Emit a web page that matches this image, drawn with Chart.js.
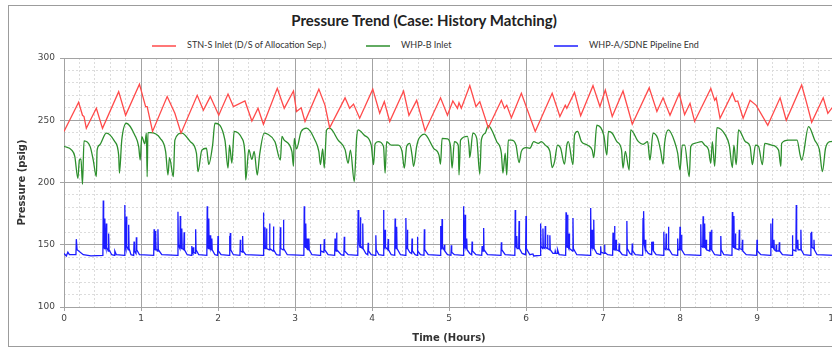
<!DOCTYPE html>
<html>
<head>
<meta charset="utf-8">
<script src="https://cdn.jsdelivr.net/npm/chart.js@4.4.1/dist/chart.umd.min.js"></script>
<style>
  body { margin: 0; width: 832px; height: 349px; overflow: hidden; background: #fff; position: relative; }
  #frame { position: absolute; left: 8px; top: 5px; width: 900px; height: 340px; border: 1px solid #9c9c9c; }
  #title { position: absolute; left: 0; width: 848px; top: 11px; text-align: center; font: bold 15px Lato, sans-serif; color: #222; }
  .lg { position: absolute; top: 39px; font: 9px Lato, sans-serif; color: #333; white-space: nowrap; line-height: 12px; }
  .lg span.sw { display: inline-block; width: 24px; height: 2px; vertical-align: middle; margin-right: 11px; opacity: 0.75; }
  canvas { position: absolute; left: 0; top: 0; }
</style>
</head>
<body>
<div id="frame"></div>
<div id="title">Pressure Trend (Case: History Matching)</div>
<div id="legend"></div>
<canvas id="c" width="850" height="349"></canvas>
<script>
const seriesNames = ['STN-S Inlet (D/S of Allocation Sep.)', 'WHP-B Inlet', 'WHP-A/SDNE Pipeline End'];
const seriesColors = ['#ff4a4a', '#2d8f2d', '#1c1cff'];

// time (hours), pressure (psig)
const stnInlet = [
  [0.00,241],[0.19,264.5],[0.24,254],[0.26,253],[0.29,243.5],[0.42,259.6],[0.50,243.5],[0.71,273],[0.80,254],[0.98,279],
  [1.06,261],[1.08,261],[1.15,241],[1.34,269],[1.44,255.6],[1.52,239.6],[1.73,270],[1.81,258],[1.90,269],[2.01,254],
  [2.13,271],[2.20,261],[2.35,265.5],[2.44,249.4],[2.52,259.6],[2.59,246.8],[2.77,275.6],[2.86,259.6],[2.98,273.5],[3.02,257],
  [3.08,260],[3.13,249],[3.31,275],[3.39,262],[3.45,244],[3.65,268],[3.71,259.6],[3.76,263],[3.84,251.6],[4.01,275],
  [4.10,255.6],[4.16,265],[4.23,249],[4.41,273.5],[4.48,254],[4.58,266],[4.69,241.4],[4.89,268],[4.98,254],[5.05,265.5],
  [5.11,259.6],[5.13,264],[5.16,259.6],[5.27,277.8],[5.35,261],[5.40,265],[5.51,244],[5.68,266],[5.72,259.6],[5.75,262],
  [5.81,252],[5.94,271.7],[6.12,241],[6.34,271.7],[6.44,253],[6.51,262],[6.53,259.6],[6.63,272.4],[6.71,253.7],[6.87,277.8],
  [6.96,261],[7.03,274.3],[7.12,253],[7.26,273.5],[7.33,258],[7.38,246.8],[7.60,276],[7.70,257],[7.78,268],[7.87,254],
  [7.99,271.5],[8.06,254.5],[8.13,263.6],[8.19,249],[8.40,275.6],[8.45,266],[8.47,268],[8.52,251.6],[8.68,271.7],[8.72,265],
  [8.75,265.5],[8.82,251.6],[8.91,266],[8.99,262],[9.14,246],[9.30,268],[9.38,250],[9.58,278.3],[9.64,265],[9.71,248.4],
  [9.86,268],[9.92,255.6],[10.0,262]
];

const whpB = [
  [0.00,229],[0.10,226],[0.14,221],[0.18,203.4],[0.20,218],[0.22,219],[0.24,198.6],[0.26,233.4],[0.34,228.8],[0.38,218],
  [0.42,204.7],[0.43,226],[0.46,230],[0.55,239.6],[0.66,232.8],[0.71,222],[0.72,207.5],[0.75,234],[0.81,247.6],[0.92,238],
  [0.97,228.8],[0.99,218],[1.01,236.8],[1.05,231],[1.07,239.6],[1.08,204.7],[1.09,240],[1.12,240],[1.25,235.5],[1.32,224.8],
  [1.35,206],[1.37,220],[1.42,204.7],[1.44,234],[1.53,239.6],[1.64,232.8],[1.72,223.5],[1.74,208.7],[1.79,226],[1.85,227.5],
  [1.88,214.5],[1.93,230],[1.96,247.6],[2.09,234],[2.13,211.5],[2.15,230],[2.18,215.5],[2.21,241],[2.31,235.5],[2.35,223],
  [2.36,202],[2.40,226.4],[2.44,218.5],[2.47,225],[2.51,206],[2.54,222],[2.60,239.6],[2.64,239],[2.74,232.8],[2.81,218],
  [2.83,237],[2.86,234],[2.96,224.8],[2.98,213],[2.99,235.5],[3.02,227],[3.08,241],[3.15,243.6],[3.26,234],[3.31,224.8],
  [3.33,214.3],[3.36,227],[3.38,211.5],[3.41,242.2],[3.45,243.6],[3.56,234],[3.65,226.4],[3.69,215.5],[3.72,226],[3.77,200.7],
  [3.80,235.5],[3.82,242.2],[3.90,238],[3.99,230],[4.02,214.3],[4.04,231],[4.08,232.8],[4.15,229],[4.17,207.5],[4.19,232.8],
  [4.25,230],[4.34,230],[4.39,225],[4.42,211.5],[4.45,229],[4.49,231.5],[4.52,222],[4.54,213],[4.58,229],[4.60,234],
  [4.63,237],[4.68,238.8],[4.80,227.5],[4.87,222],[4.89,214.7],[4.91,235.5],[4.98,235],[5.02,229],[5.04,211.5],[5.07,232.8],
  [5.12,230],[5.13,206],[5.15,234],[5.24,237],[5.26,229],[5.27,220],[5.31,239.6],[5.36,235.5],[5.40,206.7],[5.42,234],
  [5.47,239.6],[5.51,245.7],[5.62,232.8],[5.68,223.5],[5.70,207.5],[5.73,223.5],[5.75,206],[5.77,234],[5.81,234],[5.87,230],
  [5.91,216],[5.94,225],[6.00,228],[6.05,227.5],[6.10,232.8],[6.16,231.5],[6.20,232.8],[6.25,230],[6.31,225],[6.34,212],
  [6.37,216.5],[6.41,230],[6.45,227.5],[6.50,214.7],[6.53,230],[6.55,232.8],[6.61,214.3],[6.63,238],[6.67,241],[6.72,232.8],
  [6.80,230],[6.86,226],[6.88,220],[6.92,246],[7.01,238],[7.05,222],[7.07,241],[7.12,239.6],[7.18,232.8],[7.24,226.4],
  [7.26,211.5],[7.29,225],[7.34,210],[7.36,242.2],[7.46,232.8],[7.52,230.7],[7.58,232.8],[7.60,222],[7.61,218],[7.65,239.6],
  [7.71,235.5],[7.75,225],[7.78,214.7],[7.80,231.5],[7.85,242.2],[7.93,232.8],[7.97,223.5],[8.00,210],[8.03,230],[8.06,230],
  [8.12,204.7],[8.14,229],[8.19,231.5],[8.28,232.8],[8.32,230],[8.37,226.4],[8.40,215.5],[8.42,232.8],[8.45,213],[8.48,244],
  [8.59,238],[8.64,230],[8.68,212],[8.70,230],[8.73,214.3],[8.76,242.2],[8.85,232.8],[8.91,229],[8.94,214.3],[8.98,230],
  [9.02,229],[9.07,214.3],[9.10,231.5],[9.19,230],[9.28,226],[9.31,213],[9.32,231.5],[9.41,234],[9.52,234],[9.56,222],
  [9.58,218],[9.67,244.9],[9.75,234],[9.81,226.4],[9.85,208.7],[9.89,227.5],[9.95,232.8],[10.0,233]
];

const whpA = [
  [0,143],[0.03,141],[0.05,144],[0.07,142],[0.155,142],[0.16,154.5],[0.17,146],[0.25,142],[0.35,141],
  [0.505,141.5],[0.51,185.5],[0.515,150],[0.525,147],[0.53,171],[0.535,150],[0.545,147],[0.55,167],[0.555,148],[0.575,145],[0.58,159],[0.585,146],[0.62,142],[0.655,141.5],[0.66,145],[0.68,142],
  [0.785,141.5],[0.79,182],[0.795,150],[0.805,147],[0.81,172.6],[0.815,149],[0.835,146],[0.84,166],[0.845,147],[0.87,142],[0.905,141.5],[0.91,152.5],[0.915,145],[0.935,143],[0.94,156],[0.945,146],[0.98,142],
  [1.165,141.5],[1.17,162.5],[1.175,147],[1.185,146],[1.19,161],[1.195,147],[1.215,145],[1.22,162.5],[1.225,146],[1.27,142],
  [1.475,141.5],[1.48,176.6],[1.485,150],[1.505,147],[1.51,173],[1.515,149],[1.525,147],[1.53,163],[1.535,147],[1.555,146],[1.56,160],[1.565,146],[1.6,142],
  [1.655,141.5],[1.66,149],[1.665,144],[1.675,143],[1.68,148],[1.685,144],[1.705,143],[1.71,162.5],[1.715,146],[1.75,142],
  [1.855,141.5],[1.86,181],[1.865,150],[1.875,147],[1.88,171],[1.885,149],[1.895,147],[1.9,157.6],[1.905,147],[1.915,146],[1.92,155],[1.925,146],[1.96,142],[1.995,141.5],[2.0,157],[2.005,145],[2.04,142],
  [2.145,141.5],[2.15,157],[2.155,147],[2.16,159.5],[2.165,146],[2.2,142],[2.285,141.5],[2.29,154],[2.295,145],[2.315,144],[2.32,157],[2.325,145],[2.36,142],
  [2.585,141.5],[2.59,176],[2.595,150],[2.605,147],[2.61,164],[2.615,148],[2.625,147],[2.63,163],[2.635,147],[2.665,146],[2.67,167],[2.675,147],[2.715,145],[2.72,164.7],[2.725,146],[2.76,142],[2.805,141.5],[2.81,164],[2.815,147],[2.845,146],[2.85,170],[2.855,147],[2.9,142],
  [3.115,141.5],[3.12,181],[3.125,150],[3.135,148],[3.14,167],[3.145,148],[3.155,147],[3.16,155],[3.165,147],[3.175,146],[3.18,155],[3.185,146],[3.22,142],
  [3.325,141.5],[3.33,150.6],[3.335,145],[3.375,144],[3.38,154.5],[3.385,146],[3.43,142],[3.515,141.5],[3.52,155],[3.525,146],[3.535,145],[3.54,159.7],[3.545,146],[3.6,142],[3.635,141.5],[3.64,156.4],[3.645,145],[3.69,142],
  [3.815,141.5],[3.82,178],[3.825,152],[3.83,175],[3.835,150],[3.845,148],[3.85,172],[3.855,149],[3.875,147],[3.88,167],[3.885,147],[3.92,143],[3.945,142],[3.95,151.6],[3.955,145],[3.99,142],
  [4.045,141.5],[4.05,157.6],[4.055,146],[4.09,142],[4.145,141.5],[4.15,178],[4.155,150],[4.165,148],[4.17,162],[4.175,148],[4.205,146],[4.21,154.5],[4.215,146],[4.25,142],
  [4.295,141.5],[4.3,171],[4.305,149],[4.315,147],[4.32,164.5],[4.325,147],[4.37,142],[4.435,141.5],[4.44,171.5],[4.445,149],[4.455,147],[4.46,162],[4.465,147],[4.49,144],[4.515,143],[4.52,155],[4.525,145],[4.56,142],[4.585,141.5],[4.59,156.4],[4.595,145],[4.63,142],[4.675,141.5],[4.68,162.5],[4.685,146],[4.73,142],
  [4.885,141.5],[4.89,165],[4.895,148],[4.905,147],[4.91,170.6],[4.915,148],[4.935,146],[4.94,150],[4.945,145],[4.98,142],[5.025,141.5],[5.03,149.5],[5.035,144],[5.07,142],
  [5.185,141.5],[5.19,181],[5.195,150],[5.205,148],[5.21,174],[5.215,149],[5.225,147],[5.23,155],[5.235,146],[5.27,143],[5.295,142],[5.3,152.5],[5.305,145],[5.35,142],
  [5.425,141.5],[5.43,149],[5.435,145],[5.445,145],[5.45,163.5],[5.455,146],[5.5,142],[5.675,141.5],[5.68,152],[5.685,146],[5.73,142],
  [5.855,141.5],[5.86,178],[5.865,150],[5.875,148],[5.88,157],[5.885,147],[5.905,147],[5.91,169],[5.915,147],[5.95,143],[5.995,142],[6.0,173],[6.005,147],[6.05,142],[6.09,142.6],[6.1,141],
  [6.185,141.5],[6.19,167],[6.195,149],[6.215,147],[6.22,163],[6.225,148],[6.245,147],[6.25,165],[6.255,148],[6.275,147],[6.28,158],[6.285,147],[6.305,146],[6.31,157.6],[6.315,146],[6.35,143],[6.375,143],[6.38,145],[6.39,143],[6.405,143],[6.41,146],[6.43,142],
  [6.515,141.5],[6.52,176],[6.525,150],[6.535,148],[6.54,174],[6.545,149],[6.555,147],[6.56,159],[6.565,147],[6.605,145],[6.61,171.5],[6.615,147],[6.66,142],
  [6.835,141.5],[6.84,179.6],[6.845,150],[6.855,148],[6.86,162],[6.865,148],[6.875,147],[6.88,170],[6.885,147],[6.92,143],[6.965,142],[6.97,148.7],[6.975,144],[7.015,143],[7.02,150],[7.025,144],[7.06,142],
  [7.125,141.5],[7.13,159.7],[7.135,147],[7.145,146],[7.15,165],[7.155,147],[7.165,146],[7.17,154],[7.175,146],[7.205,145],[7.21,151],[7.215,145],[7.25,142],[7.305,141.5],[7.31,169],[7.315,147],[7.35,143],[7.375,142],[7.38,151],[7.385,145],[7.42,142],
  [7.515,141.5],[7.52,171.5],[7.525,150],[7.53,177],[7.535,150],[7.545,147],[7.55,154],[7.555,146],[7.59,143],[7.625,142],[7.63,152.5],[7.635,146],[7.645,146],[7.65,152.5],[7.655,145],[7.69,142],
  [7.785,141.5],[7.79,160.5],[7.795,147],[7.815,146],[7.82,159],[7.825,147],[7.845,146],[7.85,164.5],[7.855,147],[7.9,142],[7.965,141.5],[7.97,155],[7.975,146],[7.995,146],[8.0,164.5],[8.005,147],[8.015,146],[8.02,158],[8.025,146],[8.06,142],
  [8.265,141.5],[8.27,166.5],[8.275,149],[8.295,148],[8.3,172.8],[8.305,149],[8.315,148],[8.32,167],[8.325,148],[8.335,147],[8.34,154],[8.345,146],[8.385,145],[8.39,160.5],[8.395,147],[8.405,146],[8.41,162],[8.415,146],[8.45,142],[8.525,141.5],[8.53,157],[8.535,146],[8.57,142],
  [8.675,141.5],[8.68,176.3],[8.685,150],[8.695,148],[8.7,173],[8.705,149],[8.715,147],[8.72,159],[8.725,147],[8.765,146],[8.77,162],[8.775,147],[8.805,146],[8.81,154],[8.815,145],[8.86,142],[8.995,141.5],[9.0,154],[9.005,145],[9.05,142],
  [9.175,141.5],[9.18,167],[9.185,149],[9.195,148],[9.2,171],[9.205,149],[9.215,147],[9.22,154],[9.225,146],[9.245,145],[9.25,150],[9.255,145],[9.285,145],[9.29,152],[9.295,145],[9.33,142],
  [9.455,141.5],[9.46,157.6],[9.465,146],[9.505,145],[9.51,182],[9.515,150],[9.525,147],[9.53,154],[9.535,146],[9.565,146],[9.57,162],[9.575,146],[9.61,142],
  [9.695,141.5],[9.7,159.7],[9.705,148],[9.71,160.5],[9.715,148],[9.735,147],[9.74,154],[9.745,146],[9.78,142],[10,141.5]
];

const xRange = [0, 10];
const yRange = [100, 300];

// legend (html, the gaps in the original are uneven)
const legendLeft = [152, 366, 554];
const legend = document.getElementById('legend');
seriesNames.forEach((name, i) => {
  const d = document.createElement('div');
  d.className = 'lg';
  d.style.left = legendLeft[i] + 'px';
  const sw = document.createElement('span');
  sw.className = 'sw';
  sw.style.backgroundColor = seriesColors[i];
  d.appendChild(sw);
  d.appendChild(document.createTextNode(name));
  legend.appendChild(d);
});

const toPts = arr => arr.map(p => ({ x: p[0], y: p[1] }));

const majorGrid = '#a3a3a3';
const minorGrid = '#dcdcdc';
const tickFont = { family: 'DejaVu Sans', size: 9 };
const titleFont = { family: 'DejaVu Sans', size: 10, weight: 'bold' };

new Chart(document.getElementById('c'), {
  type: 'line',
  data: {
    datasets: [stnInlet, whpB, whpA].map((s, i) => ({
      label: seriesNames[i],
      data: toPts(s),
      borderColor: seriesColors[i],
      borderWidth: 1.3,
      pointRadius: 0,
      tension: 0,
      cubicInterpolationMode: i == 1 ? 'monotone' : 'default'
    }))
  },
  options: {
    responsive: false,
    animation: false,
    parsing: false,
    layout: { padding: { left: 10, right: 16, top: 58, bottom: 0 } },
    plugins: { legend: { display: false }, title: { display: false }, tooltip: { enabled: false } },
    scales: {
      xMinor: {
        type: 'linear', position: 'bottom', min: xRange[0], max: xRange[1],
        ticks: { display: false, stepSize: 0.2 },
        grid: { color: minorGrid, drawTicks: false, lineWidth: 1 },
        border: { display: false, dash: [2, 2] }
      },
      yMinor: {
        type: 'linear', position: 'left', min: yRange[0], max: yRange[1],
        ticks: { display: false, stepSize: 10 },
        grid: { color: minorGrid, drawTicks: false, lineWidth: 1 },
        border: { display: false, dash: [2, 2] }
      },
      x: {
        type: 'linear', position: 'bottom', min: xRange[0], max: xRange[1],
        ticks: { stepSize: 1, color: '#444', font: tickFont, padding: 2, maxRotation: 0 },
        grid: { color: majorGrid, tickLength: 4 },
        border: { color: majorGrid },
        title: { display: true, text: 'Time (Hours)', color: '#333', font: titleFont, padding: { top: 0, bottom: 5 } },
        afterFit: s => { s.height = 42; }
      },
      y: {
        type: 'linear', position: 'left', min: yRange[0], max: yRange[1],
        ticks: { stepSize: 50, color: '#444', font: tickFont, padding: 5 },
        grid: { color: majorGrid, tickLength: 4 },
        border: { color: majorGrid },
        title: { display: true, text: 'Pressure (psig)', color: '#333', font: titleFont, padding: { top: 6, bottom: 0 } },
        afterFit: s => { s.width = 54; }
      }
    }
  }
});
</script>
</body>
</html>
